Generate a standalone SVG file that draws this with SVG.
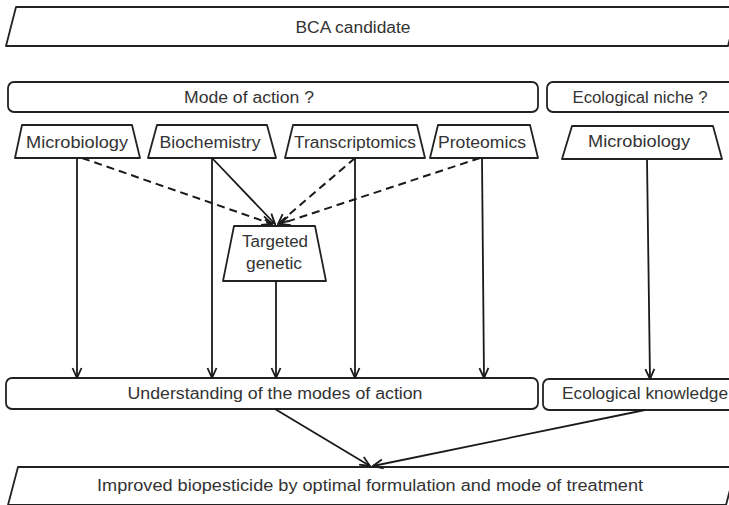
<svg xmlns="http://www.w3.org/2000/svg" width="729" height="505" viewBox="0 0 729 505">
<defs>
<style>
.box{fill:#fff;stroke:#222;stroke-width:1.8;stroke-linejoin:round}
.t{font-family:"Liberation Sans",Arial,sans-serif;font-size:16px;fill:#333;text-anchor:middle}
.ln{fill:none;stroke:#1a1a1a;stroke-width:1.8}
.ds{stroke-dasharray:8 5;stroke-width:2}
</style>
<marker id="ah" viewBox="0 0 12 12" refX="11" refY="6" markerWidth="12" markerHeight="12" markerUnits="userSpaceOnUse" orient="auto">
<path d="M1,1.5 L11,6 L1,10.5" fill="none" stroke="#1a1a1a" stroke-width="1.8"/>
</marker>
</defs>
<rect width="729" height="505" fill="#fff"/>
<g id="bca">
<polygon class="box" points="16,7 738,7 728,46 6,46"/>
<text class="t" x="353" y="33" textLength="115" lengthAdjust="spacingAndGlyphs">BCA candidate</text>
</g>
<g id="mode">
<rect class="box" x="8" y="82" width="530" height="30" rx="6"/>
<text class="t" x="249" y="103" textLength="130" lengthAdjust="spacingAndGlyphs">Mode of action ?</text>
</g>
<g id="niche">
<rect class="box" x="547" y="82" width="190" height="30" rx="6"/>
<text class="t" x="640" y="103" textLength="135" lengthAdjust="spacingAndGlyphs">Ecological niche ?</text>
</g>
<g id="micro1">
<polygon class="box" points="22,125 132,125 140,158 15,158"/>
<text class="t" x="77" y="148" textLength="102" lengthAdjust="spacingAndGlyphs">Microbiology</text>
</g>
<g id="biochem">
<polygon class="box" points="157,125 267,125 276,158 148,158"/>
<text class="t" x="210" y="148" textLength="101" lengthAdjust="spacingAndGlyphs">Biochemistry</text>
</g>
<g id="transcr">
<polygon class="box" points="293,125 417,125 425,158 285,158"/>
<text class="t" x="355" y="148" textLength="122" lengthAdjust="spacingAndGlyphs">Transcriptomics</text>
</g>
<g id="proteo">
<polygon class="box" points="438,125 530,125 538,158 430,158"/>
<text class="t" x="482" y="148" textLength="88" lengthAdjust="spacingAndGlyphs">Proteomics</text>
</g>
<g id="micro2">
<polygon class="box" points="572,126 713,126 722,159 562,159"/>
<text class="t" x="639" y="147" textLength="102" lengthAdjust="spacingAndGlyphs">Microbiology</text>
</g>
<g id="targeted">
<polygon class="box" points="234,226 315,226 326,281 223,281"/>
<text class="t" x="275" y="247" textLength="66" lengthAdjust="spacingAndGlyphs">Targeted</text>
<text class="t" x="274" y="269" textLength="56" lengthAdjust="spacingAndGlyphs">genetic</text>
</g>
<g id="understanding">
<rect class="box" x="6" y="378" width="532" height="31" rx="6"/>
<text class="t" x="275" y="399" textLength="295" lengthAdjust="spacingAndGlyphs">Understanding of the modes of action</text>
</g>
<g id="ecoknow">
<rect class="box" x="543" y="379" width="194" height="31" rx="6"/>
<text class="t" x="645" y="399" textLength="166" lengthAdjust="spacingAndGlyphs">Ecological knowledge</text>
</g>
<g id="improved">
<polygon class="box" points="18,467 736,467 726,505 8,505"/>
<text class="t" x="370" y="491" textLength="546" lengthAdjust="spacingAndGlyphs">Improved biopesticide by optimal formulation and mode of treatment</text>
</g>
<g id="connectors">
<line class="ln" x1="77" y1="158" x2="77" y2="378" marker-end="url(#ah)"/>
<line class="ln" x1="212" y1="158" x2="212" y2="378" marker-end="url(#ah)"/>
<line class="ln" x1="276" y1="281" x2="276" y2="378" marker-end="url(#ah)"/>
<line class="ln" x1="355" y1="158" x2="355" y2="378" marker-end="url(#ah)"/>
<line class="ln" x1="482" y1="158" x2="484" y2="378" marker-end="url(#ah)"/>
<line class="ln" x1="647" y1="159" x2="650" y2="379" marker-end="url(#ah)"/>
<line class="ln ds" x1="82" y1="158" x2="272" y2="224" marker-end="url(#ah)"/>
<line class="ln" x1="212" y1="158" x2="275" y2="224" marker-end="url(#ah)"/>
<line class="ln ds" x1="355" y1="158" x2="278" y2="224" marker-end="url(#ah)"/>
<line class="ln ds" x1="480" y1="158" x2="280" y2="224" marker-end="url(#ah)"/>
<line class="ln" x1="275" y1="409" x2="370" y2="466" marker-end="url(#ah)"/>
<line class="ln" x1="645" y1="410" x2="373" y2="466" marker-end="url(#ah)"/>
</g>
</svg>
